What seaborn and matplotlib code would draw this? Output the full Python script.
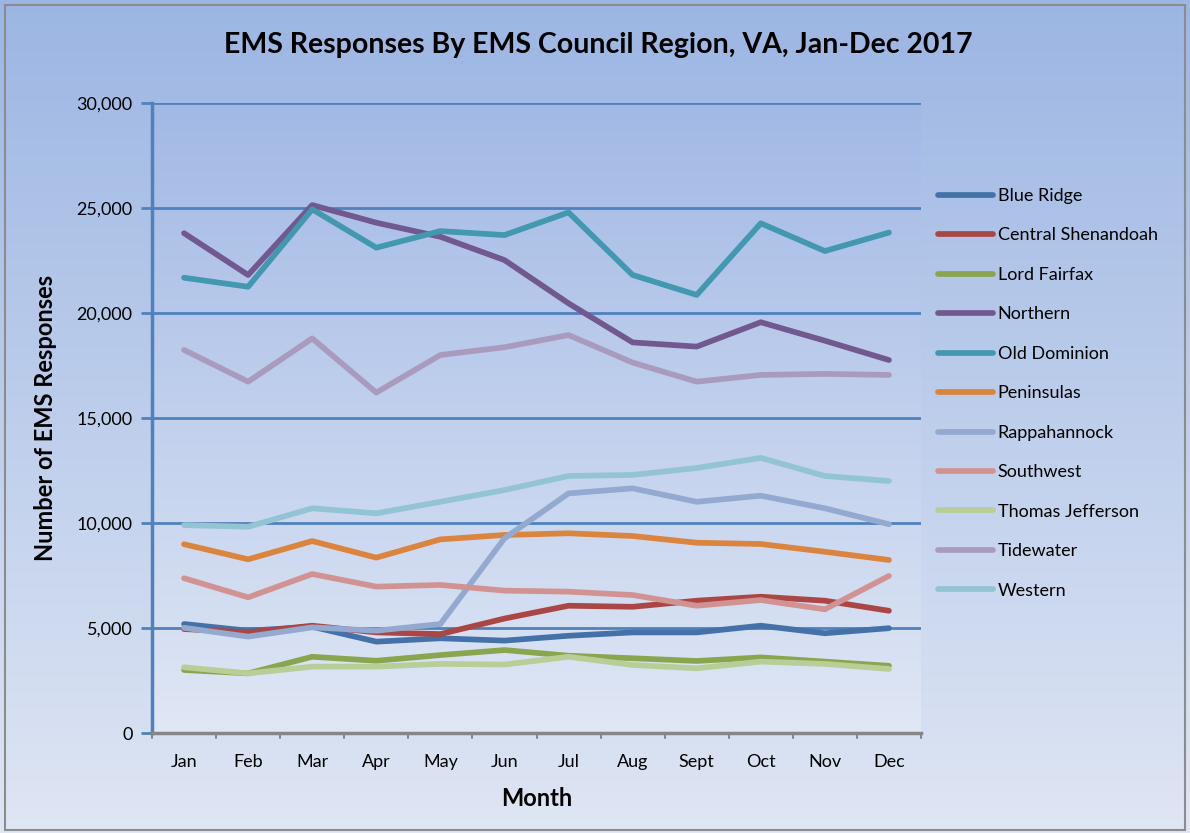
import numpy as np
import pandas as pd
import matplotlib.pyplot as plt
import seaborn as sns
from matplotlib.colors import LinearSegmentedColormap
from matplotlib.patches import Rectangle

# Monthly EMS responses per council region
months = ['Jan', 'Feb', 'Mar', 'Apr', 'May', 'Jun', 'Jul', 'Aug', 'Sept', 'Oct', 'Nov', 'Dec']
blue_ridge = [5190, 4870, 5060, 4350, 4510, 4400, 4630, 4790, 4790, 5110, 4750, 4990]
central_shenandoah = [4950, 4790, 5110, 4790, 4710, 5450, 6060, 6010, 6300, 6490, 6300, 5820]
lord_fairfax = [3000, 2840, 3630, 3440, 3710, 3950, 3680, 3560, 3430, 3600, 3400, 3200]
northern = [23800, 21810, 25140, 24300, 23630, 22520, 20460, 18600, 18400, 19560, 18680, 17760]
old_dominion = [21680, 21250, 24940, 23110, 23900, 23710, 24790, 21810, 20860, 24270, 22950, 23830]
peninsulas = [8990, 8270, 9140, 8350, 9220, 9430, 9510, 9380, 9060, 9000, 8630, 8240]
rappahannock = [5010, 4590, 5030, 4870, 5190, 9270, 11410, 11650, 11010, 11300, 10700, 9940]
southwest = [7370, 6460, 7570, 6970, 7050, 6780, 6730, 6570, 6060, 6330, 5890, 7480]
thomas_jefferson = [3130, 2840, 3160, 3160, 3290, 3260, 3630, 3240, 3080, 3400, 3290, 3050]
tidewater = [18240, 16730, 18790, 16210, 18000, 18370, 18950, 17640, 16730, 17050, 17100, 17050]
western = [9900, 9820, 10700, 10460, 11010, 11570, 12240, 12290, 12620, 13100, 12240, 12000]

regions = ['Blue Ridge', 'Central Shenandoah', 'Lord Fairfax', 'Northern', 'Old Dominion',
           'Peninsulas', 'Rappahannock', 'Southwest', 'Thomas Jefferson', 'Tidewater', 'Western']
series = [blue_ridge, central_shenandoah, lord_fairfax, northern, old_dominion,
          peninsulas, rappahannock, southwest, thomas_jefferson, tidewater, western]
colors = ['#4472A8', '#AA4643', '#89A54E', '#71588F', '#4198AF', '#DB843D',
          '#93A9CF', '#D19392', '#B9CD96', '#A99BBD', '#92C4D3']

rows = []
for name, vals in zip(regions, series):
    for i, v in enumerate(vals):
        rows.append({'Month': i, 'Region': name, 'Responses': v})
df = pd.DataFrame(rows)

sns.set_style('white')
plt.rcParams['font.family'] = ['Lato', 'DejaVu Sans']
plt.rcParams['text.color'] = 'black'
plt.rcParams['axes.labelcolor'] = 'black'
plt.rcParams['xtick.color'] = 'black'
plt.rcParams['ytick.color'] = 'black'

fig = plt.figure(figsize=(11.9, 8.33), dpi=100)

# Figure background gradient
bg = fig.add_axes([0, 0, 1, 1], zorder=-10)
bg_cmap = LinearSegmentedColormap.from_list('bg', ['#9CB6E3', '#DFE6F4'])
bg.imshow(np.linspace(0, 1, 256).reshape(-1, 1), aspect='auto', cmap=bg_cmap,
          extent=[0, 1, 0, 1])
bg.set_axis_off()
fig.patches.append(Rectangle((0.004, 0.004), 0.992, 0.990, transform=fig.transFigure,
                             fill=False, edgecolor='#8C8C8C', lw=1.5))

ax = fig.add_axes([152 / 1190, 1 - 733 / 833, (921 - 152) / 1190, (733 - 103) / 833])
plot_cmap = LinearSegmentedColormap.from_list('pa', ['#A2B9E5', '#E0E7F5'])
ax.imshow(np.linspace(0, 1, 256).reshape(-1, 1), aspect='auto', cmap=plot_cmap,
          extent=[-0.5, 11.5, 0, 30000], zorder=0)

sns.lineplot(data=df, x='Month', y='Responses', hue='Region', hue_order=regions,
             palette=colors, linewidth=4.1, ax=ax, sort=False, zorder=3)
for line in ax.lines:
    line.set_solid_capstyle('round')
    line.set_solid_joinstyle('round')

ax.set_xlim(-0.5, 11.5)
ax.set_ylim(0, 30000)
ax.set_yticks(range(0, 30001, 5000))
ax.set_yticklabels([f'{v:,}' for v in range(0, 30001, 5000)])
ax.set_xticks(range(12))
ax.set_xticklabels(months)
ax.tick_params(axis='x', length=0, pad=15, labelsize=13, labelcolor='black')
ax.tick_params(axis='y', length=8, width=2, color='#4F81BD', pad=6, labelsize=13,
               direction='out', left=True, labelcolor='black')
for v in range(5000, 30001, 5000):
    ax.axhline(v, color='#4F81BD', lw=2, zorder=1)
# category boundary ticks on the x axis
for b in np.arange(-0.5, 12, 1):
    ax.plot([b, b], [0, -250], color='#868686', lw=1.5, clip_on=False, zorder=4)

for s in ['top', 'right']:
    ax.spines[s].set_visible(False)
ax.spines['left'].set_color('#4F81BD')
ax.spines['left'].set_linewidth(2.5)
ax.spines['bottom'].set_color('#868686')
ax.spines['bottom'].set_linewidth(2.5)
ax.spines['bottom'].set_zorder(5)

ax.set_xlabel('Month', fontsize=17, fontweight='bold', labelpad=12)
ax.set_ylabel('Number of EMS Responses', fontsize=17, fontweight='bold', labelpad=14)

fig.text(0.503, 1 - 45 / 833, 'EMS Responses By EMS Council Region, VA, Jan-Dec 2017',
         ha='center', va='center', fontsize=20.5, fontweight='bold')

handles, labels = ax.get_legend_handles_labels()
ax.legend(handles, labels, loc='upper left', bbox_to_anchor=(938 / 1190, 1 - 188 / 833),
          bbox_transform=fig.transFigure, frameon=False, fontsize=13,
          handlelength=3.05, handletextpad=0.25, labelspacing=1.30, borderpad=0,
          borderaxespad=0)

fig.savefig('out.png', dpi=100)
